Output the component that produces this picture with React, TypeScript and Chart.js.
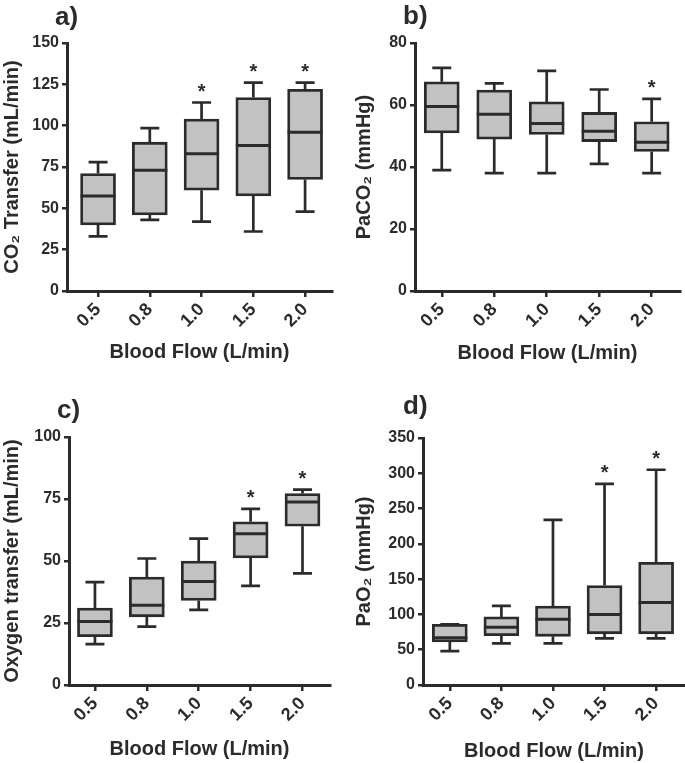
import React, { useEffect, useRef } from 'react';
import { Chart, registerables } from 'chart.js';

Chart.register(...registerables);

const FONT = '"Liberation Sans", Arial, Helvetica, sans-serif';
const INK = '#2b2b2b';
const FILL = '#c2c2c2';

// Blood flow categories (L/min)
const categories = ['0.5', '0.8', '1.0', '1.5', '2.0'];

// a) CO2 transfer (mL/min)
const co2Min = [33, 43, 42, 36, 48];
const co2Q1 = [40, 46, 61, 57.5, 67.5];
const co2Median = [57.5, 73, 83, 88, 96];
const co2Q3 = [71, 90, 104, 117, 122];
const co2Max = [78, 98.5, 114, 126, 126];
const co2Sig = [false, false, true, true, true];

// b) PaCO2 (mmHg)
const paco2Min = [39, 38, 38, 41, 38];
const paco2Q1 = [51, 49, 50.5, 48.2, 45];
const paco2Median = [59.5, 57, 54, 51.5, 48];
const paco2Q3 = [67.5, 64.8, 61, 57.6, 54.6];
const paco2Max = [72, 67, 71, 65, 62];
const paco2Sig = [false, false, false, false, true];

// c) Oxygen transfer (mL/min)
const o2Min = [16.5, 23.5, 30.3, 40, 45];
const o2Q1 = [19.5, 27.5, 34.1, 51.2, 64];
const o2Median = [25.6, 32.2, 41.7, 61, 73.8];
const o2Q3 = [31, 43.5, 50, 65.8, 77.2];
const o2Max = [41.5, 51, 59, 71, 78.8];
const o2Sig = [false, false, false, true, true];

// d) PaO2 (mmHg)
const pao2Min = [48, 59, 59, 66, 66];
const pao2Q1 = [61, 70, 69, 72.5, 72.5];
const pao2Median = [67, 82, 93, 100, 117];
const pao2Q3 = [86, 96.5, 112, 141, 174];
const pao2Max = [86, 112, 234, 285, 305];
const pao2Sig = [false, false, false, true, true];

type Panel = {
  label: string;
  yTitle: string;
  yMax: number;
  yStep: number;
  min: number[];
  q1: number[];
  med: number[];
  q3: number[];
  max: number[];
  sig: boolean[];
  left: number;
  top: number;
  width: number;
  height: number;
  areaL: number;
  areaR: number;
  areaT: number;
  areaB: number;
  xMin: number;
  xMax: number;
  padLeft: number;
  xTitlePad: number;
  labelX: number;
  labelY: number;
};

const panels: Panel[] = [
  {
    label: 'a)', yTitle: 'CO\u2082 Transfer (mL/min)', yMax: 150, yStep: 25,
    min: co2Min, q1: co2Q1, med: co2Median, q3: co2Q3, max: co2Max, sig: co2Sig,
    left: 0, top: 0, width: 342, height: 380,
    areaL: 67, areaR: 332, areaT: 43, areaB: 291, xMin: -0.6, xMax: 4.52,
    padLeft: 0, xTitlePad: 16, labelX: 55, labelY: 18,
  },
  {
    label: 'b)', yTitle: 'PaCO\u2082 (mmHg)', yMax: 80, yStep: 20,
    min: paco2Min, q1: paco2Q1, med: paco2Median, q3: paco2Q3, max: paco2Max, sig: paco2Sig,
    left: 342, top: 0, width: 343, height: 380,
    areaL: 73, areaR: 338, areaT: 43, areaB: 291, xMin: -0.51, xMax: 4.54,
    padLeft: 10, xTitlePad: 15, labelX: 61, labelY: 17,
  },
  {
    label: 'c)', yTitle: 'Oxygen transfer (mL/min)', yMax: 100, yStep: 25,
    min: o2Min, q1: o2Q1, med: o2Median, q3: o2Q3, max: o2Max, sig: o2Sig,
    left: 0, top: 380, width: 342, height: 383,
    areaL: 69, areaR: 330, areaT: 57, areaB: 305, xMin: -0.5, xMax: 4.53,
    padLeft: 0, xTitlePad: 2, labelX: 57, labelY: 31,
  },
  {
    label: 'd)', yTitle: 'PaO\u2082 (mmHg)', yMax: 350, yStep: 50,
    min: pao2Min, q1: pao2Q1, med: pao2Median, q3: pao2Q3, max: pao2Max, sig: pao2Sig,
    left: 342, top: 380, width: 343, height: 383,
    areaL: 81, areaR: 343, areaT: 58, areaB: 305, xMin: -0.52, xMax: 4.56,
    padLeft: 10, xTitlePad: 0, labelX: 61, labelY: 27,
  },
];

function makeBoxPlugin(p: Panel) {
  return {
    id: 'boxWhisker',
    afterDatasetsDraw(chart: any) {
      const { ctx } = chart;
      const x = chart.scales.x;
      const y = chart.scales.y;
      const meta = chart.getDatasetMeta(0);
      ctx.save();
      ctx.strokeStyle = INK;
      ctx.lineCap = 'butt';
      for (let i = 0; i < categories.length; i++) {
        const bar = meta.data[i];
        const cx = x.getPixelForValue(i);
        const half = bar.width / 2;
        const cap = 9.5;
        const yMin = y.getPixelForValue(p.min[i]);
        const yQ1 = y.getPixelForValue(p.q1[i]);
        const yMed = y.getPixelForValue(p.med[i]);
        const yQ3 = y.getPixelForValue(p.q3[i]);
        const yMaxPx = y.getPixelForValue(p.max[i]);
        ctx.lineWidth = 2.7;
        ctx.beginPath();
        ctx.moveTo(cx, yQ3);
        ctx.lineTo(cx, yMaxPx);
        ctx.moveTo(cx - cap, yMaxPx);
        ctx.lineTo(cx + cap, yMaxPx);
        ctx.moveTo(cx, yQ1);
        ctx.lineTo(cx, yMin);
        ctx.moveTo(cx - cap, yMin);
        ctx.lineTo(cx + cap, yMin);
        ctx.stroke();
        ctx.lineWidth = 3;
        ctx.beginPath();
        ctx.moveTo(cx - half, yMed);
        ctx.lineTo(cx + half, yMed);
        ctx.stroke();
        if (p.sig[i]) {
          ctx.fillStyle = INK;
          ctx.font = `bold 20px ${FONT}`;
          ctx.textAlign = 'center';
          ctx.textBaseline = 'alphabetic';
          ctx.fillText('*', cx, yMaxPx - 5);
        }
      }
      ctx.restore();
    },
    afterDraw(chart: any) {
      const { ctx } = chart;
      ctx.save();
      ctx.fillStyle = INK;
      ctx.font = `bold 26px ${FONT}`;
      ctx.textAlign = 'left';
      ctx.textBaseline = 'middle';
      ctx.fillText(p.label, p.labelX, p.labelY);
      ctx.restore();
    },
  };
}

function BoxPanel({ p }: { p: Panel }) {
  const ref = useRef<HTMLCanvasElement | null>(null);
  useEffect(() => {
    if (!ref.current) return;
    const data = categories.map((_, i) => ({ x: i, y: [p.q1[i], p.q3[i]] }));
    const chart = new Chart(ref.current, {
      type: 'bar',
      data: {
        datasets: [
          {
            data: data as any,
            backgroundColor: FILL,
            borderColor: INK,
            borderWidth: 2.8,
            borderSkipped: false,
            barThickness: 35,
          },
        ],
      },
      options: {
        responsive: false,
        animation: false,
        events: [],
        layout: {
          padding: { top: p.areaT, right: p.width - p.areaR, bottom: 0, left: p.padLeft },
        },
        plugins: {
          legend: { display: false },
          tooltip: { enabled: false },
          title: { display: false },
        },
        scales: {
          x: {
            type: 'linear',
            min: p.xMin,
            max: p.xMax,
            offset: false,
            afterFit: (s: any) => {
              s.height = p.height - p.areaB;
            },
            afterBuildTicks: (s: any) => {
              s.ticks = [0, 1, 2, 3, 4].map((v) => ({ value: v }));
            },
            ticks: {
              stepSize: 1,
              includeBounds: false,
              autoSkip: false,
              maxRotation: 45,
              minRotation: 45,
              padding: 2,
              color: INK,
              font: { family: FONT, size: 18, weight: 'bold' },
              callback: (v: any) => categories[Math.round(Number(v))] ?? '',
            },
            grid: {
              display: true,
              offset: false,
              drawOnChartArea: false,
              drawTicks: true,
              tickLength: 6,
              lineWidth: 2.5,
              color: INK,
            },
            border: { display: true, width: 3, color: INK },
            title: {
              display: true,
              text: 'Blood Flow (L/min)',
              color: INK,
              font: { family: FONT, size: 20, weight: 'bold' },
              padding: { top: 0, bottom: p.xTitlePad },
            },
          },
          y: {
            type: 'linear',
            min: 0,
            max: p.yMax,
            afterFit: (s: any) => {
              s.width = p.areaL - p.padLeft;
            },
            ticks: {
              stepSize: p.yStep,
              padding: 3,
              color: INK,
              font: { family: FONT, size: 16, weight: 'bold' },
            },
            grid: {
              display: true,
              drawOnChartArea: false,
              drawTicks: true,
              tickLength: 5,
              lineWidth: 2.5,
              color: INK,
            },
            border: { display: true, width: 3, color: INK },
            title: {
              display: true,
              text: p.yTitle,
              color: INK,
              font: { family: FONT, size: 20, weight: 'bold' },
              padding: { top: 0, bottom: 0 },
            },
          },
        },
      } as any,
      plugins: [makeBoxPlugin(p)],
    });
    return () => chart.destroy();
  }, [p]);
  return (
    <canvas
      ref={ref}
      width={p.width}
      height={p.height}
      style={{ position: 'absolute', left: p.left, top: p.top, width: p.width, height: p.height }}
    />
  );
}

export default function App() {
  return (
    <div style={{ position: 'absolute', left: 0, top: 0, width: 685, height: 763, background: '#ffffff' }}>
      {panels.map((p) => (
        <BoxPanel key={p.label} p={p} />
      ))}
    </div>
  );
}
